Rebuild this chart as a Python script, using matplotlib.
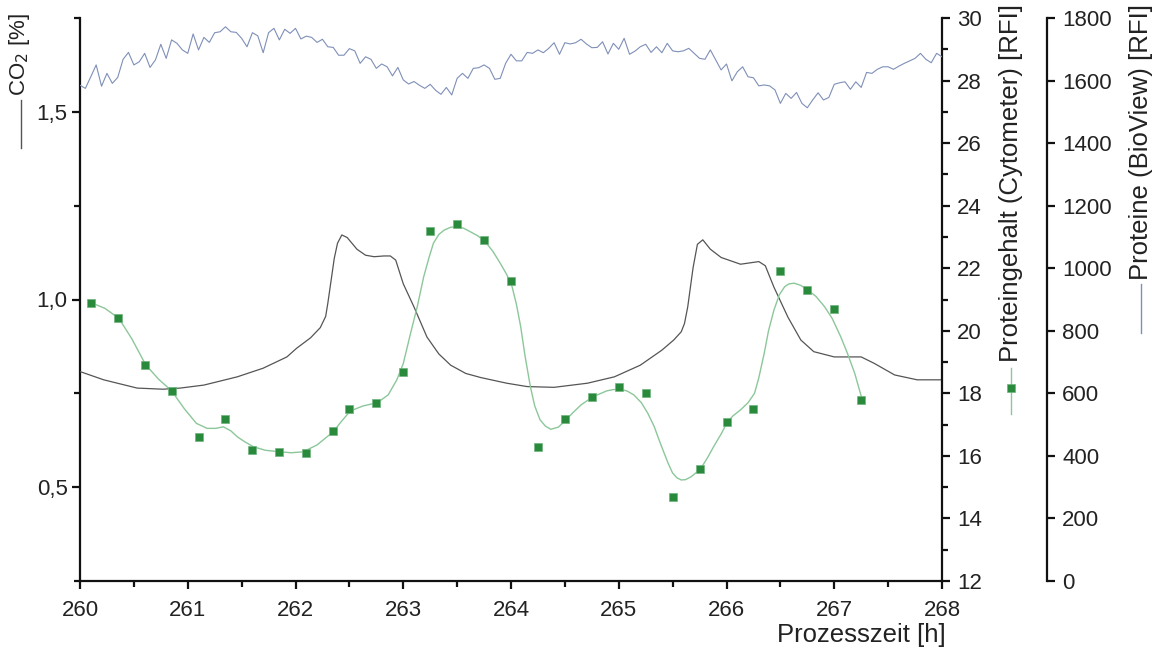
import numpy as np
import matplotlib
matplotlib.use("Agg")
import matplotlib.pyplot as plt
from matplotlib.lines import Line2D
from matplotlib.ticker import FuncFormatter, MultipleLocator, FixedLocator

plt.rcParams['font.family'] = ['Liberation Sans', 'DejaVu Sans']

# ---------------- data ----------------
# Cytometer protein content [RFI] (markers)
cyto_t = [260.10, 260.35, 260.60, 260.85, 261.10, 261.35, 261.60, 261.85, 262.10,
          262.35, 262.50, 262.75, 263.00, 263.25, 263.50, 263.75, 264.00, 264.25,
          264.50, 264.75, 265.00, 265.25, 265.50, 265.75, 266.00, 266.25, 266.50,
          266.75, 267.00, 267.25]
cyto_v = [20.90, 20.40, 18.91, 18.08, 16.59, 17.19, 16.19, 16.13, 16.09,
          16.79, 17.49, 17.69, 18.69, 23.20, 23.41, 22.90, 21.60, 16.27,
          17.18, 17.89, 18.19, 18.00, 14.69, 15.59, 17.09, 17.49, 21.90,
          21.29, 20.71, 17.79]

# smoothed fit curve of the cytometer data
fit_t = [260.10, 260.23, 260.36, 260.48, 260.61, 260.73, 260.85, 260.97, 261.08,
         261.18, 261.26, 261.33, 261.40, 261.46, 261.53, 261.61, 261.72, 261.86,
         261.96, 262.07, 262.20, 262.35, 262.43, 262.51, 262.63, 262.76, 262.86,
         262.94, 263.00, 263.07, 263.13, 263.19, 263.24, 263.28, 263.33, 263.38,
         263.44, 263.50, 263.56, 263.62, 263.69, 263.76, 263.83, 263.90, 263.96,
         264.01, 264.05, 264.09, 264.13, 264.18, 264.22, 264.27, 264.32, 264.37,
         264.44, 264.51, 264.58, 264.65, 264.76, 264.89, 264.95, 265.02, 265.08,
         265.14, 265.21, 265.27, 265.33, 265.37, 265.42, 265.46, 265.50, 265.54,
         265.58, 265.62, 265.67, 265.71, 265.76, 265.82, 265.88, 265.95, 266.01,
         266.06, 266.13, 266.20, 266.26, 266.30, 266.35, 266.39, 266.44, 266.49,
         266.54, 266.58, 266.63, 266.69, 266.76, 266.83, 266.91, 266.98, 267.06,
         267.12, 267.19, 267.26]
fit_v = [20.90, 20.72, 20.40, 19.75, 18.91, 18.45, 18.08, 17.50, 17.04,
         16.88, 16.88, 16.93, 16.80, 16.61, 16.45, 16.29, 16.18, 16.13,
         16.10, 16.13, 16.35, 16.77, 17.12, 17.44, 17.60, 17.70, 17.95,
         18.43, 18.95, 19.95, 20.77, 21.73, 22.35, 22.80, 23.08, 23.22,
         23.31, 23.33, 23.28, 23.17, 23.04, 22.85, 22.55, 22.16, 21.80,
         21.41, 20.85, 20.13, 19.20, 18.21, 17.60, 17.15, 16.95, 16.85,
         16.92, 17.15, 17.40, 17.63, 17.89, 18.08, 18.12, 18.13, 18.07,
         17.95, 17.70, 17.36, 16.93, 16.55, 16.10, 15.75, 15.45, 15.30,
         15.23, 15.24, 15.33, 15.44, 15.59, 15.92, 16.29, 16.70, 17.09,
         17.28, 17.47, 17.70, 18.00, 18.50, 19.28, 20.00, 20.66, 21.15,
         21.41, 21.50, 21.52, 21.45, 21.29, 21.10, 20.77, 20.40, 19.81,
         19.30, 18.64, 17.79]

# CO2 [%]
co2_t = [260.00, 260.22, 260.53, 260.77, 260.93, 261.15, 261.46, 261.70, 261.92,
         262.01, 262.14, 262.23, 262.28, 262.30, 262.33, 262.36, 262.39, 262.43,
         262.48, 262.57, 262.65, 262.73, 262.82, 262.88, 262.93, 263.00, 263.10,
         263.22, 263.33, 263.44, 263.58, 263.72, 263.96, 264.15, 264.40, 264.71,
         264.96, 265.20, 265.27, 265.40, 265.51, 265.58, 265.61, 265.64, 265.69,
         265.73, 265.78, 265.85, 265.95, 266.13, 266.30, 266.36, 266.44, 266.57,
         266.69, 266.81, 267.00, 267.25, 267.37, 267.56, 267.77, 268.00]
co2_v = [0.808, 0.786, 0.764, 0.761, 0.764, 0.772, 0.794, 0.817, 0.847,
         0.870, 0.898, 0.925, 0.955, 0.990, 1.050, 1.110, 1.150, 1.172,
         1.165, 1.134, 1.118, 1.114, 1.116, 1.116, 1.105, 1.042, 0.980,
         0.900, 0.855, 0.825, 0.803, 0.792, 0.777, 0.768, 0.766, 0.777,
         0.794, 0.825, 0.839, 0.865, 0.892, 0.914, 0.936, 0.980, 1.085,
         1.147, 1.159, 1.134, 1.112, 1.094, 1.101, 1.090, 1.033, 0.953,
         0.892, 0.861, 0.847, 0.847, 0.830, 0.799, 0.786, 0.786]

# BioView protein signal [RFI], sampled every 0.05 h from 260.0 h
bio_t0 = 260.0
bio_dt = 0.05
bio_v = [1585, 1575, 1612, 1650, 1582, 1623, 1591, 1610, 1668, 1690,
         1650, 1660, 1687, 1642, 1666, 1716, 1671, 1730, 1719, 1698,
         1687, 1749, 1698, 1738, 1722, 1753, 1756, 1772, 1756, 1754,
         1735, 1708, 1753, 1743, 1689, 1753, 1767, 1730, 1764, 1751,
         1767, 1733, 1742, 1738, 1722, 1732, 1708, 1706, 1681, 1681,
         1702, 1695, 1655, 1676, 1668, 1639, 1653, 1644, 1615, 1642,
         1602, 1589, 1597, 1585, 1575, 1588, 1569, 1556, 1578, 1554,
         1607, 1623, 1607, 1639, 1641, 1650, 1639, 1604, 1607, 1655,
         1684, 1663, 1663, 1690, 1687, 1698, 1689, 1703, 1721, 1684,
         1721, 1717, 1721, 1732, 1717, 1705, 1706, 1724, 1685, 1719,
         1700, 1735, 1684, 1694, 1708, 1716, 1690, 1708, 1689, 1719,
         1695, 1692, 1695, 1703, 1687, 1671, 1668, 1698, 1666, 1634,
         1653, 1599, 1628, 1644, 1612, 1609, 1583, 1586, 1583, 1570,
         1527, 1559, 1543, 1562, 1527, 1513, 1538, 1561, 1538, 1546,
         1588, 1593, 1596, 1572, 1596, 1578, 1626, 1623, 1636, 1644,
         1644, 1636, 1646, 1655, 1663, 1671, 1687, 1668, 1657, 1687,
         1676]
bio_t = bio_t0 + bio_dt * np.arange(len(bio_v))

x_ticks = [260, 261, 262, 263, 264, 265, 266, 267, 268]
co2_ticks = [0.5, 1.0, 1.5]
cyto_ticks = [12, 14, 16, 18, 20, 22, 24, 26, 28, 30]
bio_ticks = [0, 200, 400, 600, 800, 1000, 1200, 1400, 1600, 1800]

# ---------------- style ----------------
C_CO2 = '#555555'
C_BIO = '#7f8fb8'
C_FIT = '#8cc79a'
C_MARK = '#2a8a3c'
TICK_FS = 16
LAB_FS = 18.5
SPW = 1.6

W, H = 1158, 650
fig = plt.figure(figsize=(W / 100, H / 100), dpi=100)
L, R, B, T = 80, 942, 581, 18
ax = fig.add_axes([L / W, 1 - B / H, (R - L) / W, (B - T) / H])

ax_c = ax.twinx()
ax_b = ax.twinx()

# lines
ax.plot(co2_t, co2_v, color=C_CO2, lw=0.9, zorder=3)
ax_b.plot(bio_t, bio_v, color=C_BIO, lw=0.8)
ax_c.plot(fit_t, fit_v, color=C_FIT, lw=1.0)
ax_c.plot(cyto_t, cyto_v, ls='none', marker='s', ms=6, color=C_MARK,
          mec='#6fb47f', mew=0.5)

# limits
ax.set_xlim(260, 268)
ax.set_ylim(0.25, 1.75)
ax_c.set_ylim(12, 30)
ax_b.set_ylim(0, 1800)

# spines
for a in (ax, ax_c, ax_b):
    for s in a.spines.values():
        s.set_visible(False)
ax.spines['left'].set_visible(True)
ax.spines['bottom'].set_visible(True)
ax_c.spines['right'].set_visible(True)
ax_b.spines['right'].set_visible(True)
ax_b.spines['right'].set_position(('axes', 1 + 105 / (R - L)))
for s in (ax.spines['left'], ax.spines['bottom'], ax_c.spines['right'], ax_b.spines['right']):
    s.set_linewidth(SPW)
    s.set_color('#111111')

# ticks
ax.xaxis.set_major_locator(FixedLocator(x_ticks))
ax.xaxis.set_minor_locator(MultipleLocator(0.5))
ax.yaxis.set_major_locator(FixedLocator(co2_ticks))
ax.yaxis.set_minor_locator(MultipleLocator(0.25))
ax.yaxis.set_major_formatter(FuncFormatter(lambda v, p: f"{v:.1f}".replace('.', ',')))
ax.xaxis.set_major_formatter(FuncFormatter(lambda v, p: f"{int(round(v))}"))

ax_c.yaxis.set_major_locator(FixedLocator(cyto_ticks))
ax_c.yaxis.set_minor_locator(MultipleLocator(1))
ax_b.yaxis.set_major_locator(FixedLocator(bio_ticks))

ax.tick_params(axis='both', which='major', direction='out', length=6, width=SPW,
               labelsize=TICK_FS, color='#111111', pad=4)
ax.tick_params(axis='both', which='minor', direction='out', length=4, width=SPW,
               color='#111111')
ax.tick_params(axis='x', which='major', pad=8)
ax.tick_params(axis='y', which='major', pad=3)
ax.tick_params(top=False, right=False, which='both')
ax_c.tick_params(axis='y', which='major', direction='out', length=6, width=SPW,
                 labelsize=TICK_FS, color='#111111', pad=5, left=False, right=True)
ax_c.tick_params(axis='y', which='minor', direction='out', length=4, width=SPW,
                 color='#111111', left=False, right=True)
ax_b.tick_params(axis='y', which='major', direction='out', length=6, width=SPW,
                 labelsize=TICK_FS, color='#111111', pad=5, left=False, right=True)
ax_b.tick_params(axis='y', which='minor', length=0)

for a in (ax, ax_c, ax_b):
    for lab in a.get_xticklabels() + a.get_yticklabels():
        lab.set_color('#222222')

# axis titles as free text with legend keys
fig.text(946 / W, 1 - 635 / H, 'Prozesszeit [h]', ha='right', va='center',
         fontsize=LAB_FS, color='#222222')

fig.text(20 / W, 1 - 13 / H, 'CO$_2$ [%]', rotation=90, ha='center', va='top',
         fontsize=16, color='#222222')
fig.add_artist(Line2D([21 / W, 21 / W], [1 - 100 / H, 1 - 148 / H], color=C_CO2, lw=1.0))

fig.text(1011 / W, 1 - 4 / H, 'Proteingehalt (Cytometer) [RFI]', rotation=90,
         ha='center', va='top', fontsize=LAB_FS, color='#222222')
fig.add_artist(Line2D([1011 / W, 1011 / W], [1 - 368 / H, 1 - 414 / H], color=C_FIT, lw=1.0))
fig.add_artist(Line2D([1011 / W], [1 - 388 / H], marker='s', ms=6, color=C_MARK,
                      mec='#6fb47f', mew=0.5, ls='none'))

fig.text(1141 / W, 1 - 4 / H, 'Proteine (BioView) [RFI]', rotation=90,
         ha='center', va='top', fontsize=LAB_FS, color='#222222')
fig.add_artist(Line2D([1141 / W, 1141 / W], [1 - 284 / H, 1 - 333 / H], color=C_BIO, lw=1.0))

fig.savefig('out.png', dpi=100, facecolor='white')
